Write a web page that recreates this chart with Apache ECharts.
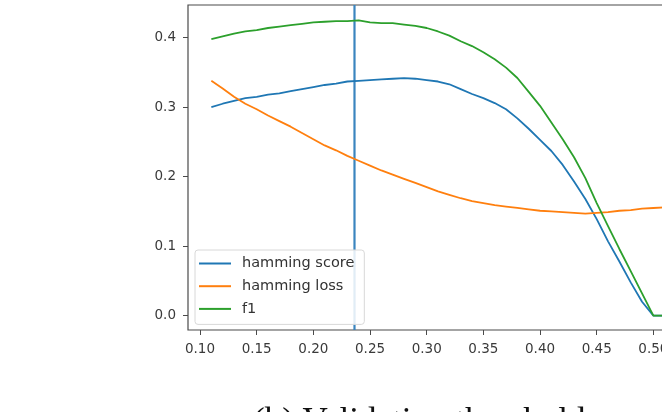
<!DOCTYPE html>
<html>
<head>
<meta charset="utf-8">
<script src="https://cdn.jsdelivr.net/npm/echarts@6.0.0/dist/echarts.min.js"></script>
<style>
  html, body { margin: 0; padding: 0; background: #fff; overflow: hidden; }
  #main { width: 720px; height: 412px; }
</style>
</head>
<body>
<div id="main"></div>
<script>
// validation threshold sweep
const thresholds = [0.11, 0.12, 0.13, 0.14, 0.15, 0.16, 0.17, 0.18, 0.19, 0.20,
  0.21, 0.22, 0.23, 0.24, 0.25, 0.26, 0.27, 0.28, 0.29, 0.30,
  0.31, 0.32, 0.33, 0.34, 0.35, 0.36, 0.37, 0.38, 0.39, 0.40,
  0.41, 0.42, 0.43, 0.44, 0.45, 0.46, 0.47, 0.48, 0.49, 0.50,
  0.51, 0.52];
const hammingScore = [0.300, 0.305, 0.309, 0.313, 0.315, 0.318, 0.320, 0.323, 0.326, 0.329,
  0.332, 0.334, 0.337, 0.338, 0.339, 0.340, 0.341, 0.342, 0.341, 0.339,
  0.337, 0.333, 0.326, 0.319, 0.313, 0.306, 0.297, 0.284, 0.269, 0.253,
  0.237, 0.217, 0.193, 0.168, 0.139, 0.107, 0.078, 0.048, 0.020, 0.000,
  0.000, 0.000];
const hammingLoss = [0.338, 0.327, 0.315, 0.305, 0.297, 0.288, 0.280, 0.272, 0.263, 0.254,
  0.245, 0.238, 0.230, 0.223, 0.216, 0.209, 0.203, 0.197, 0.191, 0.185,
  0.179, 0.174, 0.169, 0.165, 0.162, 0.159, 0.157, 0.155, 0.153, 0.151,
  0.150, 0.149, 0.148, 0.147, 0.148, 0.149, 0.151, 0.152, 0.154, 0.155,
  0.156, 0.156];
const f1 = [0.398, 0.402, 0.406, 0.409, 0.411, 0.414, 0.416, 0.418, 0.420, 0.422,
  0.423, 0.424, 0.424, 0.425, 0.422, 0.421, 0.421, 0.419, 0.417, 0.414,
  0.409, 0.403, 0.395, 0.388, 0.379, 0.369, 0.357, 0.342, 0.322, 0.302,
  0.278, 0.254, 0.228, 0.198, 0.162, 0.129, 0.096, 0.064, 0.032, 0.000,
  0.000, 0.000];
const chosenThreshold = 0.2363;
const xRange = [0.0894, 0.5429];
const yRange = [-0.0206, 0.4471];
const xTicks = [0.10, 0.15, 0.20, 0.25, 0.30, 0.35, 0.40, 0.45, 0.50, 0.55];
const yTicks = [0.0, 0.1, 0.2, 0.3, 0.4];
const seriesNames = ['hamming score', 'hamming loss', 'f1'];

const colors = {
  blue: '#1f77b4',
  orange: '#ff7f0e',
  green: '#2ca02c'
};

const pairs = (ys) => thresholds.map((x, i) => [x, ys[i]]);

const chartDom = document.getElementById('main');
const myChart = echarts.init(chartDom);

const lineSeries = (name, ys, color) => ({
  name: name,
  type: 'line',
  data: pairs(ys),
  showSymbol: false,
  symbol: 'none',
  z: 3,
  lineStyle: { color: color, width: 1.8 },
  itemStyle: { color: color }
});

const option = {
  animation: false,
  grid: {
    left: 188, top: 5, right: 18, bottom: 82,
    show: true, borderColor: '#4a4a4a', borderWidth: 1.2
  },
  xAxis: {
    type: 'value',
    min: xRange[0],
    max: xRange[1],
    splitLine: { show: false },
    axisLine: { show: false, onZero: false },
    axisTick: { show: true, length: 5, lineStyle: { color: '#4a4a4a' }, customValues: xTicks },
    axisLabel: {
      customValues: xTicks,
      formatter: (v) => v.toFixed(2),
      color: '#3a3a3a', fontSize: 13.5, fontFamily: 'DejaVu Sans', margin: 12
    }
  },
  yAxis: {
    type: 'value',
    min: yRange[0],
    max: yRange[1],
    splitLine: { show: false },
    axisLine: { show: false, onZero: false },
    axisTick: { show: true, length: 5, lineStyle: { color: '#4a4a4a' }, customValues: yTicks },
    axisLabel: {
      customValues: yTicks,
      formatter: (v) => v.toFixed(1),
      color: '#3a3a3a', fontSize: 13.5, fontFamily: 'DejaVu Sans', margin: 12
    }
  },
  legend: {
    data: seriesNames,
    orient: 'vertical',
    left: 195,
    top: 250,
    icon: 'path://M0,0H32V2H0Z',
    itemWidth: 32,
    itemHeight: 14,
    itemGap: 7.7,
    padding: [6, 10, 8, 4],
    backgroundColor: 'rgba(255,255,255,0.85)',
    borderColor: '#d8d8d8',
    borderWidth: 1,
    borderRadius: 3,
    textStyle: { color: '#333', fontSize: 14.5, fontFamily: 'DejaVu Sans', lineHeight: 14, padding: [0, 0, 0, 6] }
  },
  graphic: [{
    type: 'text',
    left: 253,
    top: 405,
    style: {
      text: '(b) Validation threshold',
      font: '35px "Liberation Serif"',
      fill: '#111'
    }
  }],
  series: [
    lineSeries(seriesNames[0], hammingScore, colors.blue),
    lineSeries(seriesNames[1], hammingLoss, colors.orange),
    lineSeries(seriesNames[2], f1, colors.green),
    {
      name: 'threshold',
      type: 'line',
      data: [[chosenThreshold, yRange[0]], [chosenThreshold, yRange[1]]],
      showSymbol: false,
      symbol: 'none',
      silent: true,
      z: 2,
      lineStyle: { color: '#3a85bf', width: 2.2 }
    }
  ]
};

myChart.setOption(option);
</script>
</body>
</html>
